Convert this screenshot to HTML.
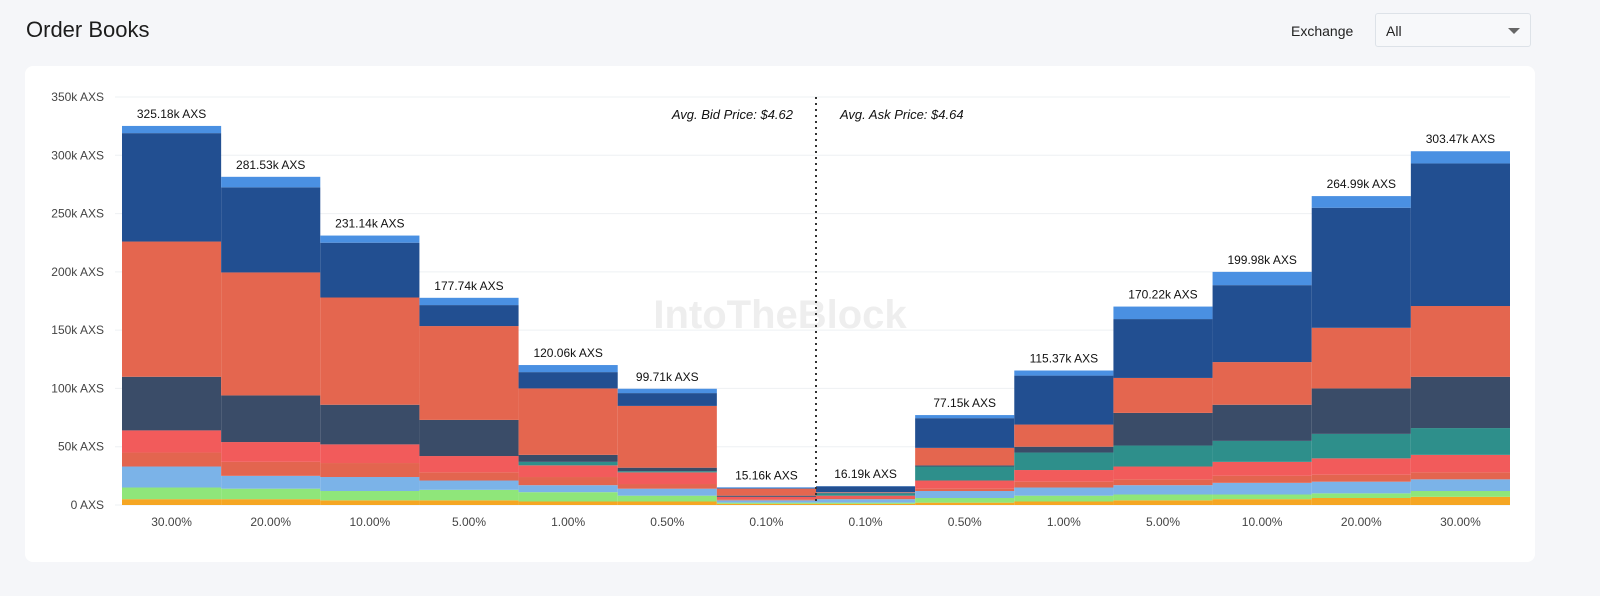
<!DOCTYPE html>
<html><head><meta charset="utf-8"><style>
html,body{margin:0;padding:0;width:1600px;height:596px;overflow:hidden;background:#f5f6f9;font-family:"Liberation Sans",sans-serif;}
#title{position:absolute;left:26px;top:17px;font-size:22px;color:#1c1c1c;}
#exlabel{position:absolute;left:1291px;top:23px;font-size:14px;color:#222;}
#select{position:absolute;left:1375px;top:13px;width:156px;height:34px;border:1px solid #dde2e8;border-radius:3px;background:#f7f8fa;box-sizing:border-box;}
#select span{position:absolute;left:10px;top:9px;font-size:14px;color:#222;}
#select i{position:absolute;right:10px;top:14px;width:0;height:0;border-left:6px solid transparent;border-right:6px solid transparent;border-top:6px solid #666;}
#card{position:absolute;left:25px;top:66px;width:1510px;height:496px;background:#fff;border-radius:8px;}
svg{position:absolute;left:0;top:0;}
</style></head><body>
<div id="title">Order Books</div>
<div id="exlabel">Exchange</div>
<div id="select"><span>All</span><i></i></div>
<div id="card"></div>
<svg id="chart" width="1600" height="596"></svg>
<script>
const categories=["30.00%","20.00%","10.00%","5.00%","1.00%","0.50%","0.10%","0.10%","0.50%","1.00%","5.00%","10.00%","20.00%","30.00%"];
const totals=[325.18,281.53,231.14,177.74,120.06,99.71,15.16,16.19,77.15,115.37,170.22,199.98,264.99,303.47];
const sBase=[5,5,4,4,3,3,1,1,2,3,4,5,6,7];
const sGreen=[10,9,8,9,8,5,1,1,4,5,5,4,4,5];
const sLightBlue=[18,11,12,8,6,6,2,3,6,7,8,10,10,10];
const sOrangeSmall=[12,12,12,7,7,4,1,1,2,5,5,6,6,6];
const sRed=[19,17,16,14,10,10,2,2,7,10,11,12,14,15];
const sTeal=[0,0,0,0,3,1,0,2,12,15,18,18,21,23];
const sSlate=[46,40,34,31,6,3,1,0.5,1,5,28,31,39,44];
const sOrangeBig=[116,105.5,92,80.5,57,53,6,0.5,15,19,30,36.6,52,60.7];
const sDarkBlue=[93,73,47,18,14,11,0.5,5,25.5,42,50.5,66,103,122.3];
const sTop=[6.18,9.03,6.14,6.24,6.06,3.71,0.66,0.19,2.65,4.37,10.72,11.38,9.99,10.47];
const yTicks=[0,50,100,150,200,250,300,350];
const series=[sBase,sGreen,sLightBlue,sOrangeSmall,sRed,sTeal,sSlate,sOrangeBig,sDarkBlue,sTop];
const colors=["#f5a623","#8fe67a","#7bb3e8","#e3654f","#f25b5b","#2e8f8b","#3a4c68","#e4664f","#224f91","#4a90e2"];
const sNames=["base","green","light-blue","orange-small","red","teal","slate","orange-big","dark-blue","top"];
const NS="http://www.w3.org/2000/svg";
const svg=document.getElementById('chart');
const y0=505,pxPerK=408/350,x0=122,bw=1388/14;
const yS=v=>y0-v*pxPerK, xS=i=>x0+i*bw;
function mk(t,a){const e=document.createElementNS(NS,t);for(const k in a)e.setAttribute(k,a[k]);svg.appendChild(e);return e;}
yTicks.forEach(t=>{
  const g=mk('line',{x1:115,x2:1510,y1:yS(t),y2:yS(t),stroke:'#eef0f3','stroke-width':1});
  
  
  const l=mk('text',{x:104,y:yS(t)+4,'text-anchor':'end','font-size':12,fill:'#444'});
  l.textContent=t+(t?'k':'')+' AXS';
  
  
});
const wm=mk('text',{x:780,y:328,'text-anchor':'middle','font-size':40,'font-weight':'bold',fill:'#eeeeee'});
wm.textContent='IntoTheBlock';


categories.forEach((c,i)=>{
  let acc=0;
  series.forEach((s,k)=>{
    const v=s[i];
    const r=mk('rect',{x:xS(i),y:yS(acc+v),width:bw,height:v*pxPerK,fill:colors[k]});
    
    
    acc+=v;
  });
  const lb=mk('text',{x:xS(i)+bw/2,y:yS(totals[i])-8,'text-anchor':'middle','font-size':12,fill:'#111'});
  lb.textContent=totals[i].toFixed(2)+'k AXS';
  
  
  const xl=mk('text',{x:xS(i)+bw/2,y:526,'text-anchor':'middle','font-size':12,fill:'#444'});
  xl.textContent=c;
  
  
});
const mid=mk('line',{x1:xS(7),x2:xS(7),y1:97,y2:505,stroke:'#333','stroke-width':2,'stroke-dasharray':'2,4'});


const bid=mk('text',{x:793,y:119,'text-anchor':'end','font-size':13,'font-style':'italic',fill:'#111'});
bid.textContent='Avg. Bid Price: $4.62';


const ask=mk('text',{x:840,y:119,'font-size':13,'font-style':'italic',fill:'#111'});
ask.textContent='Avg. Ask Price: $4.64';


</script>
</body></html>
